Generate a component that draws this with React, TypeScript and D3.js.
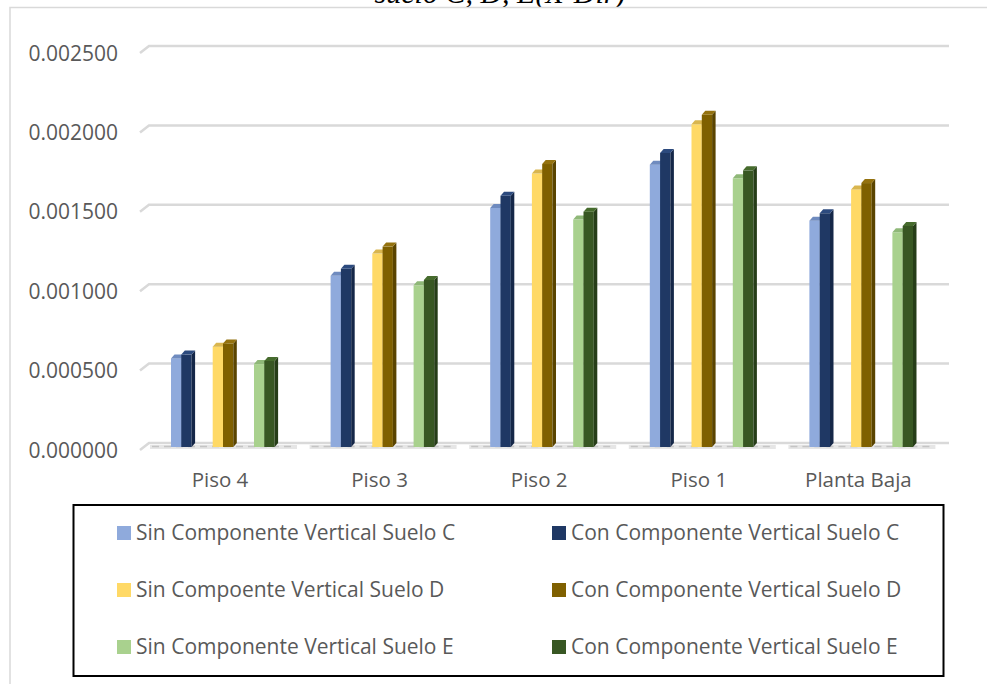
import React from "react";
import * as d3 from "d3";

const categories = ["Piso 4", "Piso 3", "Piso 2", "Piso 1", "Planta Baja"];
const sinC = [0.000558, 0.001078, 0.001505, 0.001778, 0.001425];
const conC = [0.000582, 0.001122, 0.001582, 0.001852, 0.001472];
const sinD = [0.000632, 0.001218, 0.001722, 0.002032, 0.001622];
const conD = [0.000652, 0.001262, 0.001782, 0.002092, 0.001662];
const sinE = [0.000522, 0.001018, 0.001432, 0.001692, 0.001352];
const conE = [0.000542, 0.001052, 0.001482, 0.001742, 0.001392];
const yTicks = [0, 0.0005, 0.001, 0.0015, 0.002, 0.0025];
const titleText = "suelo C, D, E(X-Dir)";
const pairs = [
  { sin: sinC, con: conC, sinFill: "#8faadc", conFill: "#1f3864", conSide: "#152748", sinTop: "#6f8bbf", conTop: "#2c4a7e" },
  { sin: sinD, con: conD, sinFill: "#ffd966", conFill: "#7f6000", conSide: "#5a4400", sinTop: "#d9b64f", conTop: "#94720f" },
  { sin: sinE, con: conE, sinFill: "#a9d18e", conFill: "#385723", conSide: "#263d18", sinTop: "#8fb878", conTop: "#466b2d" },
];
const legendNames = [
  ["Sin Componente Vertical Suelo C", "Con Componente Vertical Suelo C"],
  ["Sin Compoente Vertical Suelo D", "Con Componente Vertical Suelo D"],
  ["Sin Componente Vertical Suelo E", "Con Componente Vertical Suelo E"],
];
const legendFills = [
  ["#8faadc", "#1f3864"],
  ["#ffd966", "#7f6000"],
  ["#a9d18e", "#385723"],
];

const font = "'Open Sans', 'Noto Sans', sans-serif";
const grey = "#595959";

export default function App() {
  const base = 447;
  const y = d3.scaleLinear().domain([0, 0.0025]).range([base, base - 397]);
  const gridShift = -4;
  const x = d3.scaleBand().domain(categories).range([140, 938]).paddingInner(0).paddingOuter(0);
  const barW = 10.3;
  const depthX = 3.5;
  const depthY = 4;
  const offs = [31, 72.7, 114];

  const bar = (xl: number, v: number, fill: string, side: string, top: string, key: string) => {
    const yt = y(v);
    return (
      <g key={key}>
        <rect x={xl} y={yt} width={barW} height={base - yt} fill={fill} />
        <path d={`M${xl + barW},${yt}L${xl + barW + depthX},${yt - depthY}V${base - depthY}L${xl + barW},${base}Z`} fill={side} />
        <path d={`M${xl},${yt}L${xl + depthX},${yt - depthY}H${xl + barW + depthX}L${xl + barW},${yt}Z`} fill={top} />
      </g>
    );
  };

  return (
    <svg width={987} height={684} style={{ position: "absolute", left: 0, top: 0, background: "#fff" }}>
      <text x={500} y={3} textAnchor="middle" fontFamily="'Liberation Serif', serif" fontStyle="italic" fontSize={30} fill="#000">{titleText}</text>
      <rect x={0} y={7} width={987} height={677} fill="#fff" />
      <path d="M10,684V7.5H987" fill="none" stroke="#d9d9d9" strokeWidth={1.5} />
      {yTicks.map((t) => (
        <g key={t}>
          <path d={`M140,${y(t) + gridShift + 7}L149,${y(t) + gridShift}H949`} fill="none" stroke="#d9d9d9" strokeWidth={2.5} />
          <text x={118} y={y(t) + 10.5} textAnchor="end" fontFamily={font} fontSize={21} fill={grey}>{t.toFixed(6)}</text>
        </g>
      ))}
      {categories.map((c, i) => {
        const x0 = x(c)!;
        return (
          <g key={c}>
            <path d={`M${x0 + 10},447H${x0 + 157}`} stroke="#e6e6e6" strokeWidth={4} />
            <path d={`M${x0 + 12},446.5H${x0 + 155}`} stroke="#c4c4c4" strokeWidth={1.5} strokeDasharray="7 5" />
            {pairs.map((p, j) => (
              <g key={j}>
                {bar(x0 + offs[j], p.sin[i], p.sinFill, p.sinTop, p.sinTop, `s${j}`)}
                {bar(x0 + offs[j] + barW, p.con[i], p.conFill, p.conSide, p.conTop, `c${j}`)}
              </g>
            ))}
            <text x={x0 + 80} y={487} textAnchor="middle" fontFamily={font} fontSize={20.5} fill={grey}>{c}</text>
          </g>
        );
      })}
      <rect x={73.5} y={505} width={870} height={171} fill="#fff" stroke="#000" strokeWidth={2} />
      {legendNames.map((row, r) =>
        row.map((n, c) => {
          const lx = c === 0 ? 117 : 552;
          const ly = 533 + r * 57;
          return (
            <g key={n}>
              <rect x={lx} y={ly - 7} width={14} height={14} fill={legendFills[r][c]} />
              <text x={lx + 19} y={ly + 7} fontFamily={font} fontSize={21} fill={grey}>{n}</text>
            </g>
          );
        })
      )}
    </svg>
  );
}
